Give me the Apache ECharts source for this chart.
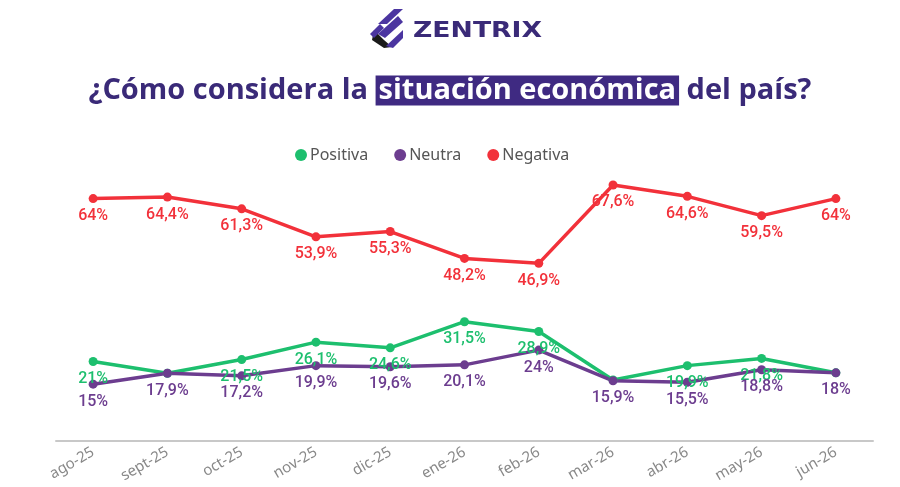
<!DOCTYPE html>
<html><head><meta charset="utf-8">
<script src="https://cdn.jsdelivr.net/npm/echarts@6/dist/echarts.min.js"></script>
<style>html,body{margin:0;padding:0;background:#fff}#c{width:900px;height:487px}</style>
</head><body><div id="c"></div>
<script>
const categories = ['ago-25','sept-25','oct-25','nov-25','dic-25','ene-26','feb-26','mar-26','abr-26','may-26','jun-26'];
const positiva = [21, 17.9, 21.5, 26.1, 24.6, 31.5, 28.9, 16.1, 19.9, 21.8, 18];
const neutra   = [15, 17.9, 17.2, 19.9, 19.6, 20.1, 24, 15.9, 15.5, 18.8, 18];
const negativa = [64, 64.4, 61.3, 53.9, 55.3, 48.2, 46.9, 67.6, 64.6, 59.5, 64];
const positivaLabels = ['21%', '', '21,5%', '26,1%', '24,6%', '31,5%', '28,9%', '', '19,9%', '21,8%', ''];

const chart = echarts.init(document.getElementById('c'));
const fmt = v => String(v).replace('.', ',') + '%';
function mk(name, data, color, labels) {
  return {
    name, type: 'line', data, symbol: 'circle', symbolSize: 9,
    lineStyle: { width: 3.5, color }, itemStyle: { color },
    label: {
      show: true, position: 'bottom', distance: 5, color,
      fontFamily: 'Roboto', fontWeight: 500, fontSize: 16,
      formatter: p => labels ? labels[p.dataIndex] : fmt(p.value)
    }
  };
}
chart.setOption({
  animation: false,
  title: {
    left: 'center', top: 68,
    text: '{a|¿Cómo considera la }{b|situación económica}{a| del país?}',
    textStyle: {
      rich: {
        a: { fontFamily: 'Open Sans', fontWeight: 'bold', fontSize: 29, color: '#3a2a78', lineHeight: 35 },
        b: { fontFamily: 'Open Sans', fontWeight: 'bold', fontSize: 29, color: '#ffffff', backgroundColor: '#3f2a82', padding: [1, 3, 0, 3], lineHeight: 34 }
      }
    }
  },
  legend: {
    top: 142, left: 290, icon: 'circle', itemWidth: 12, itemHeight: 12, itemGap: 26,
    textStyle: { fontFamily: 'Noto Sans', fontSize: 16, color: '#555', padding: [0, 0, 0, -2] },
    data: ['Positiva', 'Neutra', 'Negativa']
  },
  grid: { left: 56, right: 27, top: 138, bottom: 46 },
  xAxis: {
    type: 'category', data: categories, boundaryGap: true,
    axisLine: { lineStyle: { color: '#c8c8c8', width: 2 } },
    axisTick: { alignWithLabel: true, lineStyle: { color: '#c8c8c8' }, length: 5 },
    axisLabel: { rotate: 30, color: '#888', fontFamily: 'Noto Sans', fontSize: 15, margin: 10 }
  },
  yAxis: { type: 'value', min: 0, max: 80, show: false, splitLine: { show: false } },
  graphic: [
    { type: 'polygon', shape: { points: [[378,24],[394,9],[403,9],[387,24]] }, style: { fill: '#4b35a0' } },
    { type: 'polygon', shape: { points: [[378,34],[398,16],[403,22],[385,38]] }, style: { fill: '#4b35a0' } },
    { type: 'polygon', shape: { points: [[372,40],[374,30],[384,40],[392,47],[384,48]] }, style: { fill: '#1a1a1a' } },
    { type: 'polygon', shape: { points: [[386,46],[403,30],[403,38],[393,48]] }, style: { fill: '#4b35a0' } },
    { type: 'polygon', shape: { points: [[370,34],[380,24],[384,28],[374,38]] }, style: { fill: '#4b35a0' } },
    { type: 'text', x: 413, y: 21, scaleX: 1.27, style: { text: 'ZENTRIX', font: 'bold 21px "DejaVu Sans"', fill: '#3a2a78' } }
  ],
  series: [
    mk('Positiva', positiva, '#1dbf6e', positivaLabels),
    mk('Neutra', neutra, '#6c3d8f'),
    mk('Negativa', negativa, '#f2313a')
  ]
});
</script></body></html>
